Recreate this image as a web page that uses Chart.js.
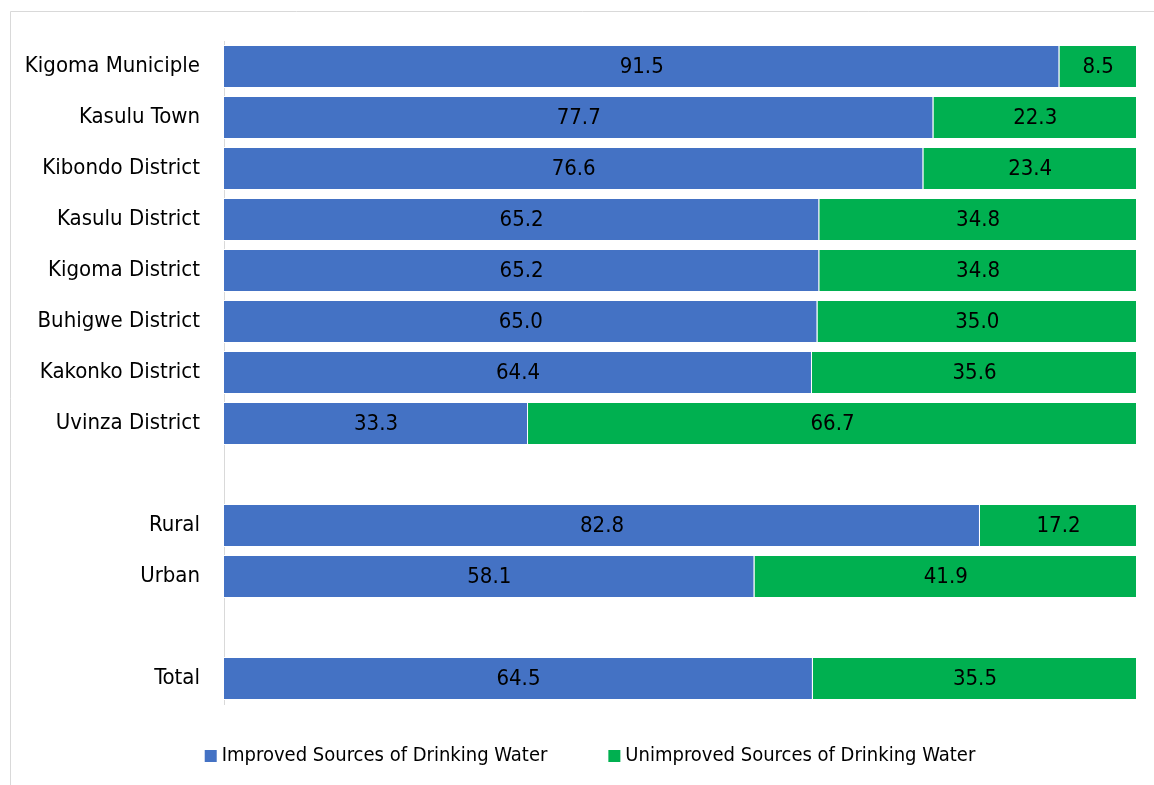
<!DOCTYPE html>
<html>
<head>
<meta charset="utf-8">
<script src="https://cdn.jsdelivr.net/npm/chart.js@4.4.1/dist/chart.umd.min.js"></script>
<style>
  html, body { margin: 0; padding: 0; background: #fff; }
  #wrap { width: 1154px; height: 785px; }
</style>
</head>
<body>
<div id="wrap"><canvas id="canvas"></canvas></div>
<script>
const categories = ['Kigoma Municiple', 'Kasulu Town', 'Kibondo District', 'Kasulu District',
	'Kigoma District', 'Buhigwe District', 'Kakonko District', 'Uvinza District', '',
	'Rural', 'Urban', '', 'Total'];
const improved = [91.5, 77.7, 76.6, 65.2, 65.2, 65.0, 64.4, 33.3, null, 82.8, 58.1, null, 64.5];
const unimproved = [8.5, 22.3, 23.4, 34.8, 34.8, 35.0, 35.6, 66.7, null, 17.2, 41.9, null, 35.5];

const FONT = '"Liberation Sans Narrow", "Arial Narrow", "DejaVu Sans Condensed", sans-serif';

const frame = {
	id: 'frame',
	beforeDraw(chart) {
		const c = chart.ctx;
		c.save();
		c.fillStyle = '#fff';
		c.fillRect(0, 0, chart.width, chart.height);
		c.strokeStyle = '#d9d9d9';
		c.lineWidth = 1;
		c.beginPath();
		c.moveTo(10.5, chart.height);
		c.lineTo(10.5, 11.5);
		c.lineTo(chart.width, 11.5);
		c.stroke();
		c.restore();
	}
};

const valueLabels = {
	id: 'valueLabels',
	afterDatasetsDraw(chart) {
		const c = chart.ctx;
		c.save();
		c.font = '22px ' + FONT;
		c.fillStyle = '#000';
		c.textAlign = 'center';
		c.textBaseline = 'middle';
		chart.data.datasets.forEach((ds, i) => {
			chart.getDatasetMeta(i).data.forEach((bar, j) => {
				const v = ds.data[j];
				if (v == null) return;
				c.fillText(v.toFixed(1), (bar.x + bar.base) / 2, bar.y + 1);
			});
		});
		c.restore();
	}
};

// legend drawn by hand to get the tight box/text gap of the original
const bottomLegend = {
	id: 'bottomLegend',
	afterDraw(chart) {
		const c = chart.ctx;
		const box = 12, gap = 5, spacing = 61, cy = 756, cx = 590;
		c.save();
		c.font = '20px ' + FONT;
		c.textBaseline = 'middle';
		c.textAlign = 'left';
		const items = chart.data.datasets.map(ds => ({
			text: ds.label, color: ds.backgroundColor, w: c.measureText(ds.label).width
		}));
		let total = items.reduce((s, it) => s + box + gap + it.w, 0) + spacing * (items.length - 1);
		let x = cx - total / 2;
		items.forEach(it => {
			c.fillStyle = it.color;
			c.fillRect(x, cy - box / 2, box, box);
			c.fillStyle = '#000';
			c.fillText(it.text, x + box + gap, cy);
			x += box + gap + it.w + spacing;
		});
		c.restore();
	}
};

window.onload = function() {
	const ctx = document.getElementById('canvas').getContext('2d');
	window.myBar = new Chart(ctx, {
		type: 'bar',
		data: {
			labels: categories,
			datasets: [{
				label: 'Improved Sources of Drinking Water',
				backgroundColor: '#4472C4',
				borderColor: '#ffffff',
				borderWidth: 1,
				data: improved
			}, {
				label: 'Unimproved Sources of Drinking Water',
				backgroundColor: '#00B050',
				borderColor: '#ffffff',
				borderWidth: 1,
				data: unimproved
			}]
		},
		options: {
			indexAxis: 'y',
			responsive: true,
			maintainAspectRatio: false,
			animation: false,
			barPercentage: 1,
			categoryPercentage: 0.84,
			layout: { padding: { left: 10, right: 17, top: 41, bottom: 81 } },
			scales: {
				x: {
					stacked: true,
					min: 0,
					max: 100,
					display: false
				},
				y: {
					stacked: true,
					grid: { display: false },
					border: { color: '#d9d9d9', width: 1 },
					ticks: {
						color: '#000',
						padding: 16,
						font: { family: FONT, size: 22 }
					},
					afterFit(scale) { scale.width = 214; }
				}
			},
			plugins: {
				legend: { display: false },
				tooltip: { enabled: false }
			}
		},
		plugins: [frame, valueLabels, bottomLegend]
	});
};
</script>
</body>
</html>
